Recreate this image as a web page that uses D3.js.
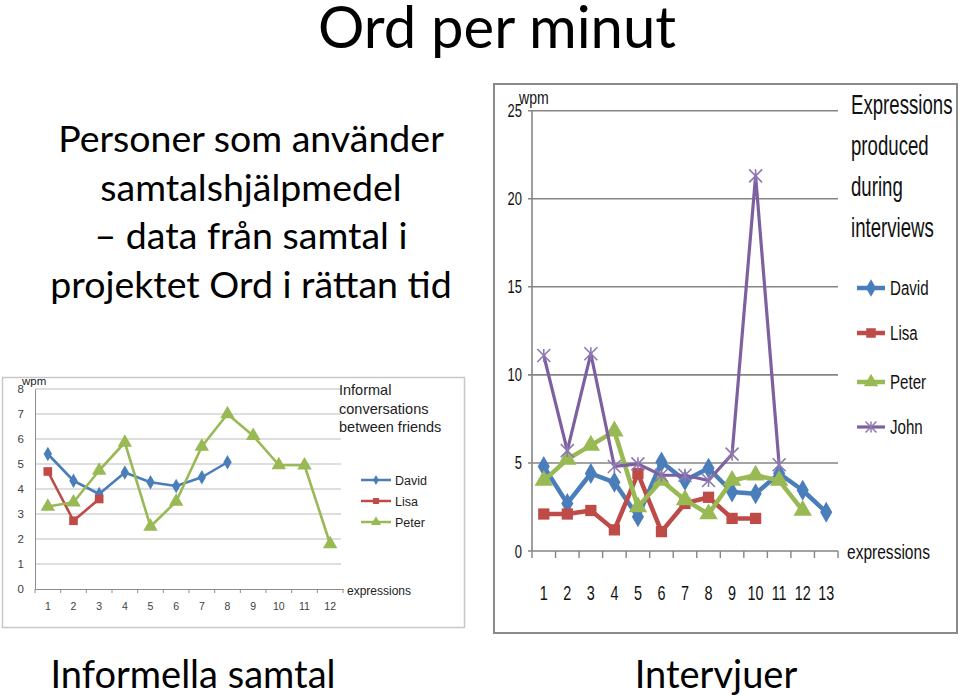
<!DOCTYPE html>
<html><head><meta charset="utf-8">
<script src="https://cdn.jsdelivr.net/npm/d3@7"></script>
<style>body{margin:0;background:#fff}svg{display:block}</style>
</head><body>
<svg id="c" width="960" height="695"></svg>
<script>
// ---------- data ----------
const leftCategories = ["1","2","3","4","5","6","7","8","9","10","11","12"];
const leftTicks = [0,1,2,3,4,5,6,7,8];
const leftDavid = [5.4,4.33,3.8,4.66,4.27,4.12,4.47,5.07];
const leftLisa  = [4.7,2.73,3.6];
const leftPeter = [3.3,3.47,4.74,5.86,2.5,3.5,5.7,7.0,6.13,4.96,4.95,1.8];

const rightCategories = ["1","2","3","4","5","6","7","8","9","10","11","12","13"];
const rightTicks = [0,5,10,15,20,25];
const rightDavid = [4.8,2.7,4.4,3.9,1.95,5.05,4.0,4.7,3.35,3.25,4.4,3.45,2.2];
const rightLisa  = [2.1,2.1,2.3,1.2,4.4,1.1,2.7,3.05,1.85,1.85];
const rightPeter = [4.0,5.2,6.0,6.8,2.5,4.0,2.9,2.1,4.0,4.3,4.0,2.3];
const rightJohn  = [11.1,5.7,11.2,4.8,4.95,4.3,4.3,4.0,5.5,21.3,4.9];

const seriesNames = ["David","Lisa","Peter","John"];
const colors = {David:"#4A7EBB",Lisa:"#BE4B48",Peter:"#98B954",John:"#7D60A0"};

const titleText = "Ord per minut";
const subtitleLines = ["Personer som använder","samtalshjälpmedel","– data från samtal i","projektet Ord i rättan tid"];
const leftNote = ["Informal","conversations","between friends"];
const rightNote = ["Expressions","produced","during","interviews"];

// ---------- drawing ----------
const svg = d3.select("#c");
svg.append("rect").attr("width",960).attr("height",695).attr("fill","#fff");
const serif = "Lato, 'Noto Sans', sans-serif";

svg.append("text").attr("x",497).attr("y",48).attr("text-anchor","middle")
  .attr("font-family",serif).attr("font-size",58).attr("fill","#000").text(titleText);

svg.selectAll("text.sub").data(subtitleLines).join("text").attr("class","sub")
  .attr("x",251).attr("y",(d,i)=>152+i*48.5).attr("text-anchor","middle")
  .attr("font-family",serif).attr("font-size",37.5).attr("fill","#000").text(d=>d);

svg.append("text").attr("x",193).attr("y",688).attr("text-anchor","middle")
  .attr("font-family",serif).attr("font-size",38).attr("fill","#000").text("Informella samtal");
svg.append("text").attr("x",716).attr("y",688).attr("text-anchor","middle")
  .attr("font-family",serif).attr("font-size",38).attr("fill","#000").text("Intervjuer");

function markerPath(name,size){
  if(name==="John"){
    const s=size/2;
    return `M${-s},${-s}L${s},${s}M${s},${-s}L${-s},${s}M0,${-s}L0,${s}`;
  }
  const t = name==="David"?d3.symbolDiamond:name==="Lisa"?d3.symbolSquare:d3.symbolTriangle;
  return d3.symbol().type(t).size(size*size*0.75)();
}

// ---------- left chart ----------
(function(){
  const g = svg.append("g");
  const F = "'Liberation Sans', Arial, sans-serif";
  g.append("rect").attr("x",2.5).attr("y",377.5).attr("width",462).attr("height",250)
    .attr("fill","#fff").attr("stroke","#c8c8c8").attr("stroke-width",1.5);
  const x = d3.scaleBand().domain(leftCategories).range([35,343]);
  const y = d3.scaleLinear().domain([0,8]).range([589,389]);
  const cx = i=>x(leftCategories[i])+x.bandwidth()/2;
  g.append("g").selectAll("line").data(leftTicks.filter(t=>t>0)).join("line")
    .attr("x1",35).attr("x2",341).attr("y1",d=>y(d)).attr("y2",d=>y(d))
    .attr("stroke","#bdbdbd").attr("stroke-width",1);
  const ya = g.append("g").attr("transform","translate(35,0)")
    .call(d3.axisLeft(y).tickValues(leftTicks).tickSize(0).tickPadding(11));
  ya.select(".domain").attr("stroke","#8c8c8c");
  ya.selectAll("text").attr("font-family",F).attr("font-size",11.5).attr("fill","#404040");
  const xa = g.append("g").attr("transform","translate(0,589)")
    .call(d3.axisBottom(x).tickSize(0).tickPadding(14));
  xa.select(".domain").attr("stroke","#8c8c8c");
  xa.selectAll("text").attr("font-family",F).attr("font-size",10.5).attr("fill","#404040");
  xa.selectAll("line.b").data(d3.range(leftCategories.length+1)).join("line").attr("class","b")
    .attr("x1",i=>35+i*x.step()).attr("x2",i=>35+i*x.step()).attr("y1",0).attr("y2",4).attr("stroke","#8c8c8c");
  g.append("text").attr("x",22).attr("y",385).attr("font-family",F).attr("font-size",11.5).attr("fill","#222").text("wpm");
  g.append("text").attr("x",347).attr("y",595).attr("font-family",F).attr("font-size",12).attr("fill","#222").text("expressions");
  g.selectAll("text.note").data(leftNote).join("text").attr("class","note")
    .attr("x",339).attr("y",(d,i)=>395+i*18.5).attr("font-family",F).attr("font-size",14.5).attr("fill","#222").text(d=>d);

  const line = d3.line().x((d,i)=>cx(i)).y(d=>y(d));
  const sets = [["David",leftDavid,9],["Lisa",leftLisa,10],["Peter",leftPeter,11]];
  sets.forEach(([n,vals,ms])=>{
    g.append("path").attr("d",line(vals)).attr("fill","none").attr("stroke",colors[n]).attr("stroke-width",2.6).attr("stroke-linejoin","round");
    g.selectAll(null).data(vals).join("path").attr("d",markerPath(n,ms))
      .attr("transform",(d,i)=>`translate(${cx(i)},${y(d)})`).attr("fill",colors[n]);
  });
  // legend
  sets.forEach(([n,vals,ms],i)=>{
    const ly = 480+i*21;
    g.append("line").attr("x1",361).attr("x2",391).attr("y1",ly).attr("y2",ly).attr("stroke",colors[n]).attr("stroke-width",2.5);
    g.append("path").attr("d",markerPath(n,ms*0.7)).attr("transform",`translate(376,${ly})`).attr("fill",colors[n]);
    g.append("text").attr("x",395).attr("y",ly+4.5).attr("font-family",F).attr("font-size",12.5).attr("fill","#222").text(n);
  });
})();

// ---------- right chart ----------
(function(){
  const g = svg.append("g");
  const F = "'Liberation Sans Narrow','Liberation Sans', Arial, sans-serif";
  function ctext(x,y,str,size,anchor,sx){
    return g.append("text").attr("transform",`translate(${x},${y}) scale(${sx||0.78},1)`)
      .attr("text-anchor",anchor||"start").attr("font-family",F).attr("font-size",size).attr("fill","#111").text(str);
  }
  g.append("rect").attr("x",494).attr("y",84).attr("width",463).attr("height",549)
    .attr("fill","#fff").attr("stroke","#8a8a8a").attr("stroke-width",2);
  const x = d3.scaleBand().domain(rightCategories).range([532,838]);
  const y = d3.scaleLinear().domain([0,25]).range([551,110.7]);
  const cx = i=>x(rightCategories[i])+x.bandwidth()/2;
  g.append("g").selectAll("line").data(rightTicks.filter(t=>t>0)).join("line")
    .attr("x1",528).attr("x2",838).attr("y1",d=>y(d)).attr("y2",d=>y(d))
    .attr("stroke","#858585").attr("stroke-width",1.6);
  g.append("line").attr("x1",532).attr("x2",532).attr("y1",y(25)).attr("y2",y(0)).attr("stroke","#858585").attr("stroke-width",1.6);
  g.append("line").attr("x1",528).attr("x2",838).attr("y1",y(0)).attr("y2",y(0)).attr("stroke","#858585").attr("stroke-width",1.6);
  g.selectAll("line.xt").data(d3.range(rightCategories.length+1)).join("line").attr("class","xt")
    .attr("x1",i=>532+i*x.step()).attr("x2",i=>532+i*x.step()).attr("y1",551).attr("y2",558)
    .attr("stroke","#858585").attr("stroke-width",1.4);
  rightTicks.forEach(t=>ctext(522,y(t)+6.5,String(t),18,"end",0.72));
  rightCategories.forEach((c,i)=>ctext(cx(i),600,c,20,"middle",0.72));
  ctext(519,104,"wpm",18,"start",0.78);
  ctext(847,559,"expressions",21,"start",0.74);
  rightNote.forEach((s,i)=>ctext(851,114+i*41,s,27,"start",0.69));

  const line = d3.line().x((d,i)=>cx(i)).y(d=>y(d));
  const sets = [["David",rightDavid,13,4.5],["Lisa",rightLisa,13,4.5],["Peter",rightPeter,14,4.5],["John",rightJohn,13,3.2]];
  sets.forEach(([n,vals,ms,sw])=>{
    g.append("path").attr("d",line(vals)).attr("fill","none").attr("stroke",colors[n]).attr("stroke-width",sw).attr("stroke-linejoin","round");
    if(n==="John"){
      g.selectAll(null).data(vals).join("path").attr("d",markerPath(n,ms))
        .attr("transform",(d,i)=>`translate(${cx(i)},${y(d)})`).attr("fill","none").attr("stroke","#8E78B0").attr("stroke-width",1.6);
    } else {
      g.selectAll(null).data(vals).join("path").attr("d",markerPath(n,ms))
        .attr("transform",(d,i)=>`translate(${cx(i)},${y(d)})`).attr("fill",colors[n]);
    }
  });
  const legY = [288,333,382,427];
  sets.forEach(([n,vals,ms,sw],i)=>{
    const ly = legY[i];
    g.append("line").attr("x1",857).attr("x2",885).attr("y1",ly).attr("y2",ly).attr("stroke",colors[n]).attr("stroke-width",sw);
    if(n==="John"){
      g.append("path").attr("d",markerPath(n,11)).attr("transform",`translate(871,${ly})`).attr("fill","none").attr("stroke","#8E78B0").attr("stroke-width",1.5);
    } else {
      g.append("path").attr("d",markerPath(n,11)).attr("transform",`translate(871,${ly})`).attr("fill",colors[n]);
    }
    ctext(890,ly+7,n,21,"start",0.72);
  });
})();
</script>
</body></html>
